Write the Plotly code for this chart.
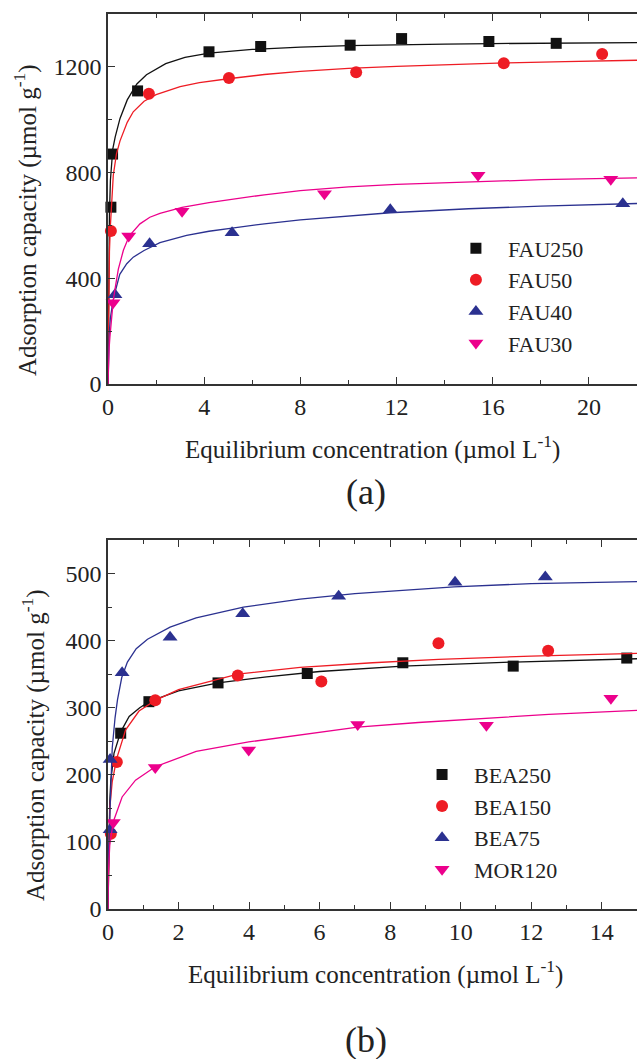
import plotly.graph_objects as go

# ---------------- Panel (a): FAU samples ----------------
fau250_x = [0.12, 0.19, 1.23, 4.2, 6.35, 10.07, 12.21, 15.84, 18.64]
fau250_y = [669, 870, 1109, 1257, 1277, 1282, 1307, 1296, 1289]
fau50_x = [0.12, 1.7, 5.03, 10.32, 16.46, 20.55]
fau50_y = [579, 1098, 1158, 1180, 1214, 1249]
fau40_x = [0.29, 1.73, 5.16, 11.74, 21.41]
fau40_y = [338, 531, 572, 659, 682]
fau30_x = [0.21, 0.86, 3.08, 9.0, 15.39, 20.91]
fau30_y = [307, 560, 654, 720, 790, 775]

# fitted isotherm curves
fit250_x = [0, 0.03, 0.06, 0.1, 0.15, 0.2, 0.3, 0.5, 0.8, 1.2, 1.6, 2.4, 3.2, 4.2, 6, 8, 10, 12, 14, 16, 18, 20, 22]
fit250_y = [0, 420, 640, 770, 850, 890, 935, 1005, 1075, 1135, 1170, 1212, 1236, 1252, 1266, 1275, 1280, 1284, 1286, 1288, 1289, 1290, 1292]
fit50_x = [0, 0.03, 0.06, 0.1, 0.15, 0.22, 0.35, 0.5, 0.8, 1.05, 1.5, 2, 3, 3.8, 5, 6.5, 8, 10, 12, 14, 16.5, 19, 22]
fit50_y = [0, 350, 500, 600, 700, 790, 870, 920, 990, 1030, 1070, 1095, 1125, 1140, 1155, 1171, 1183, 1194, 1202, 1208, 1215, 1220, 1225]
fit40_x = [0, 0.02, 0.05, 0.1, 0.15, 0.2, 0.3, 0.49, 0.78, 1.05, 1.5, 2.16, 3.27, 4.2, 5.16, 6.5, 8, 11.74, 15, 18, 22]
fit40_y = [0, 120, 190, 250, 285, 310, 350, 415, 455, 480, 505, 535, 562, 578, 590, 606, 621, 648, 663, 673, 683]
fit30_x = [0, 0.02, 0.05, 0.08, 0.15, 0.22, 0.32, 0.43, 0.64, 0.88, 1.33, 1.74, 2.16, 3.08, 4.2, 5.2, 6.5, 8, 10, 12, 15.4, 18, 22]
fit30_y = [0, 90, 140, 178, 260, 317, 375, 435, 506, 560, 606, 631, 646, 668, 686, 700, 716, 732, 746, 755, 766, 773, 780]

# ---------------- Panel (b): BEA / MOR samples ----------------
bea250_x = [0.36, 1.16, 3.12, 5.65, 8.36, 11.49, 14.71]
bea250_y = [262, 309, 337, 351, 367, 362, 374]
bea150_x = [0.08, 0.25, 1.34, 3.68, 6.05, 9.37, 12.48]
bea150_y = [112, 219, 311, 348, 339, 396, 385]
bea75_x = [0.06, 0.06, 0.4, 1.76, 3.82, 6.54, 9.84, 12.4]
bea75_y = [118, 223, 352, 405, 440, 466, 487, 495]
mor120_x = [0.15, 1.34, 3.99, 7.08, 10.73, 14.26]
mor120_y = [129, 211, 237, 275, 274, 314]

fitb250_x = [0, 0.02, 0.05, 0.08, 0.17, 0.36, 0.6, 0.9, 1.17, 2, 3.12, 4.5, 6, 8.36, 11.49, 15]
fitb250_y = [0, 110, 160, 192, 232, 264, 287, 300, 309, 325, 337, 346, 354, 362, 368, 373]
fitb150_x = [0, 0.02, 0.05, 0.12, 0.25, 0.5, 0.88, 1.34, 2, 3.68, 5.45, 7.5, 9.37, 12, 15]
fitb150_y = [0, 90, 150, 190, 225, 267, 295, 311, 327, 350, 360, 367, 372, 377, 381]
fitb75_x = [0, 0.02, 0.06, 0.12, 0.2, 0.27, 0.39, 0.55, 0.8, 1.12, 1.76, 2.5, 3.84, 5.45, 7, 9.81, 12, 15]
fitb75_y = [0, 90, 152, 240, 285, 312, 345, 368, 388, 402, 420, 434, 450, 462, 470, 480, 485, 488]
fitm120_x = [0, 0.01, 0.05, 0.15, 0.4, 0.78, 1.34, 2.5, 3.99, 6.02, 7.08, 8.8, 10.73, 12.5, 15]
fitm120_y = [0, 53, 95, 130, 167, 192, 212, 235, 249, 264, 271, 278, 284, 290, 296]

BLACK = "#111111"
RED = "#ee1c24"
BLUE = "#2b3190"
MAGENTA = "#ec008c"
FONT = "Times New Roman, Liberation Serif, DejaVu Serif, serif"

fig = go.Figure()

def add_series(x, y, fx, fy, name, color, symbol, size, xa, ya, legend):
    fig.add_trace(go.Scatter(x=fx, y=fy, mode="lines", line=dict(color=color, width=1.3, shape="linear"),
                             xaxis=xa, yaxis=ya, showlegend=False, hoverinfo="skip"))
    fig.add_trace(go.Scatter(x=x, y=y, mode="markers", name=name, cliponaxis=False,
                             marker=dict(color=color, symbol=symbol, size=size, line=dict(width=0)),
                             xaxis=xa, yaxis=ya, legend=legend))

add_series(fau250_x, fau250_y, fit250_x, fit250_y, "FAU250", BLACK, "square", 11, "x", "y", "legend")
add_series(fau50_x, fau50_y, fit50_x, fit50_y, "FAU50", RED, "circle", 12, "x", "y", "legend")
add_series(fau40_x, fau40_y, fit40_x, fit40_y, "FAU40", BLUE, "triangle-up", 13, "x", "y", "legend")
add_series(fau30_x, fau30_y, fit30_x, fit30_y, "FAU30", MAGENTA, "triangle-down", 13, "x", "y", "legend")

add_series(bea250_x, bea250_y, fitb250_x, fitb250_y, "BEA250", BLACK, "square", 11, "x2", "y2", "legend2")
add_series(bea150_x, bea150_y, fitb150_x, fitb150_y, "BEA150", RED, "circle", 12, "x2", "y2", "legend2")
add_series(bea75_x, bea75_y, fitb75_x, fitb75_y, "BEA75", BLUE, "triangle-up", 13, "x2", "y2", "legend2")
add_series(mor120_x, mor120_y, fitm120_x, fitm120_y, "MOR120", MAGENTA, "triangle-down", 13, "x2", "y2", "legend2")

axis_common = dict(showline=True, linewidth=1.5, linecolor="#333333", ticks="inside", ticklen=7, tickwidth=1.4,
                   tickcolor="#333333", showgrid=False, zeroline=False,
                   tickfont=dict(family=FONT, size=24, color="#222222"))

fig.update_layout(
    width=637, height=1059,
    margin=dict(l=108, r=0, t=14, b=150),
    paper_bgcolor="white", plot_bgcolor="white",
    font=dict(family=FONT, color="#222222"),
    xaxis=dict(domain=[0, 1], range=[0, 22], tick0=0, dtick=4, anchor="y", mirror="allticks",
               minor=dict(ticks="inside", ticklen=4, dtick=2, tick0=0, tickcolor="#333333", tickwidth=1.2),
               **axis_common),
    yaxis=dict(domain=[0.5866, 1], range=[0, 1400], tick0=0, dtick=400, anchor="x", mirror=False,
               minor=dict(ticks="inside", ticklen=4, dtick=200, tick0=0, tickcolor="#333333", tickwidth=1.2),
               **axis_common),
    xaxis2=dict(domain=[0, 1], range=[0, 15], tick0=0, dtick=2, anchor="y2", mirror="allticks",
                minor=dict(ticks="inside", ticklen=4, dtick=1, tick0=0, tickcolor="#333333", tickwidth=1.2),
                **axis_common),
    yaxis2=dict(domain=[0, 0.4123], range=[0, 550], tick0=0, dtick=100, anchor="x2", mirror=False,
                minor=dict(ticks="inside", ticklen=4, dtick=50, tick0=0, tickcolor="#333333", tickwidth=1.2),
                **axis_common),
    legend=dict(x=0.635, y=0.7615, xanchor="left", yanchor="top", bgcolor="rgba(0,0,0,0)",
                font=dict(family=FONT, size=22, color="#222222"), itemwidth=54, tracegroupgap=0),
    legend2=dict(x=0.571, y=0.1735, xanchor="left", yanchor="top", bgcolor="rgba(0,0,0,0)",
                 font=dict(family=FONT, size=22, color="#222222"), itemwidth=54, tracegroupgap=0),
)

ann_font = dict(family=FONT, size=25, color="#222222")
xtitle = "Equilibrium concentration (\u00b5mol L<sup>-1</sup>)"
ytitle = "Adsorption capacity (\u00b5mol g<sup>-1</sup>)"
annotations = [
    dict(text=xtitle, x=0.5, y=(909 - 447) / 895, xref="paper", yref="paper", showarrow=False,
         xanchor="center", yanchor="middle", font=ann_font),
    dict(text=xtitle, x=0.505, y=(909 - 973) / 895, xref="paper", yref="paper", showarrow=False,
         xanchor="center", yanchor="middle", font=ann_font),
    dict(text=ytitle, x=(26 - 108) / 529, y=(909 - 220) / 895, xref="paper", yref="paper", showarrow=False,
         xanchor="center", yanchor="middle", textangle=-90, font=ann_font),
    dict(text=ytitle, x=(33 - 108) / 529, y=(909 - 745) / 895, xref="paper", yref="paper", showarrow=False,
         xanchor="center", yanchor="middle", textangle=-90, font=ann_font),
    dict(text="(a)", x=(366 - 108) / 529, y=(909 - 492) / 895, xref="paper", yref="paper", showarrow=False,
         xanchor="center", yanchor="middle", font=dict(family=FONT, size=36, color="#222222")),
    dict(text="(b)", x=(366 - 108) / 529, y=(909 - 1040) / 895, xref="paper", yref="paper", showarrow=False,
         xanchor="center", yanchor="middle", font=dict(family=FONT, size=36, color="#222222")),
]
fig.update_layout(annotations=annotations)

fig.write_html("out.html")
